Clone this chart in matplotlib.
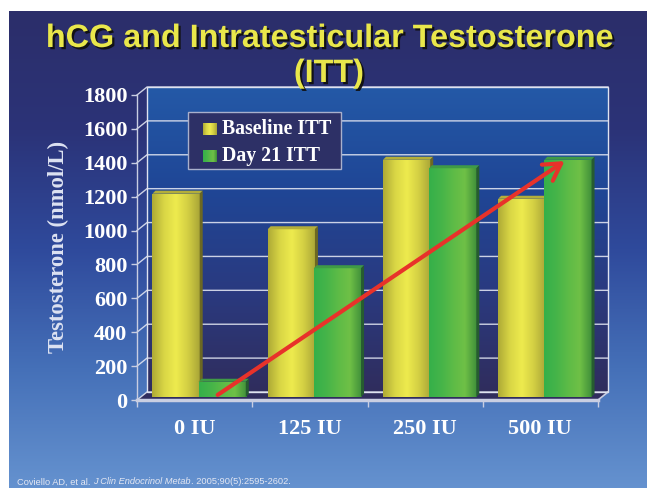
import matplotlib.pyplot as plt
import matplotlib.patheffects as pe
from matplotlib.patches import Rectangle, Polygon
from matplotlib.colors import LinearSegmentedColormap
import numpy as np

W, H = 647, 488

# data
categories = ['0 IU', '125 IU', '250 IU', '500 IU']
baseline_itt = [1200, 990, 1400, 1170]
day21_itt = [90, 760, 1350, 1400]
series_names = ['Baseline ITT', 'Day 21 ITT']
y_ticks = list(range(0, 1801, 200))
trend_start = (0.2, 30)
trend_end = (3.21, 1410)

title_1 = 'hCG and Intratesticular Testosterone'
title_2 = '(ITT)'
y_label = 'Testosterone (nmol/L)'

colors = {
    'title': '#e9e74b',
    'line': '#c9cee2',
    'grid': '#dfe3f0',
    'floor': '#302d5d',
    'legend_bg': '#2d3066',
    'arrow': '#e8322a',
    'ylabel': '#dde2f2',
}
bg_cmap = LinearSegmentedColormap.from_list(
    'bg', ['#2c2e6a', '#2b3378', '#2f4a9c', '#4570b8', '#6592cf'])
wall_cmap = LinearSegmentedColormap.from_list(
    'wall', ['#2459a7', '#1f4696', '#2a3a80', '#302d5d'])
yellow_cmap = LinearSegmentedColormap.from_list(
    'yel', ['#aeaa36', '#d9d645', '#eeeb4e', '#d3cf43', '#a9a537'])
green_cmap = LinearSegmentedColormap.from_list(
    'grn', ['#35b04a', '#45b449', '#5dbb47', '#6fc046', '#3f8f3a'])
bar_cmaps = [yellow_cmap, green_cmap]
top_colors = ['#b3ae3a', '#3f9a46']
side_colors = ['#6c6822', '#265c30']

serif = 'Liberation Serif'
sans = 'Liberation Sans'

fig = plt.figure(figsize=(W / 100, H / 100), dpi=100, facecolor='white')


def px_axes(x0, y0, x1, y1):
    # image pixel box (y down) -> figure axes
    return fig.add_axes([x0 / W, 1 - y1 / H, (x1 - x0) / W, (y1 - y0) / H])


# slide background
bg = px_axes(9, 11, W, H)
bg.axis('off')
bg.imshow(np.linspace(0, 1, 256)[:, None], cmap=bg_cmap, aspect='auto',
          extent=[0, 1, 0, 1])
bg.set_xlim(0, 1)
bg.set_ylim(0, 1)

# front plane of the 3D chart
ax = px_axes(137, 95, 598, 400)
ax.patch.set_visible(False)
xmin, xmax, ymin, ymax = -0.5, 3.5, 0, 1800
ux = 461 / (xmax - xmin)     # pixels per category
uy = 305 / (ymax - ymin)     # pixels per nmol/L

# depth offsets (pixels -> data units)
ox, oy = 10 / ux, 8 / uy          # back wall
bx, by = 4.5 / ux, 3 / uy         # bar front face
tx, ty = 3 / ux, 3 / uy           # bar depth

# back wall
wall = ax.imshow(np.linspace(0, 1, 256)[:, None], cmap=wall_cmap, aspect='auto',
                 extent=[xmin + ox, xmax + ox, ymin + oy, ymax + oy], zorder=0.5)
wall.set_clip_on(False)
ax.add_patch(Rectangle((xmin + ox, ymin + oy), xmax - xmin, ymax - ymin,
                       fc='none', ec=colors['grid'], lw=1, zorder=1, clip_on=False))

# floor
ax.add_patch(Polygon([(xmin, 0), (xmax, 0), (xmax + ox, oy), (xmin + ox, oy)],
                     closed=True, fc=colors['floor'], ec='none', zorder=0.8,
                     clip_on=False))
ax.plot([xmax, xmax + ox], [0, oy], color=colors['line'], lw=1.2, zorder=1,
        clip_on=False)

# gridlines on back wall + left side wall
for v in y_ticks:
    ax.plot([xmin, xmin + ox, xmax + ox], [v, v + oy, v + oy],
            color=colors['grid'], lw=1, alpha=0.9, zorder=1, clip_on=False)

# bars
x = np.arange(len(categories))
width = 0.41
shifts = [-0.2, 0.2]
zo = 3
for i in range(len(categories)):
    for s, values in enumerate([baseline_itt, day21_itt]):
        bar = ax.bar(x[i] + shifts[s] + bx, values[i], width, bottom=by,
                     color='none', zorder=zo)[0]
        x0, y0 = bar.get_x(), bar.get_y()
        x1, y1 = x0 + bar.get_width(), y0 + bar.get_height()
        img = ax.imshow(np.linspace(0, 1, 128)[None, :], cmap=bar_cmaps[s],
                        aspect='auto', extent=[x0, x1, y0, y1], zorder=zo)
        img.set_clip_path(bar)
        ax.add_patch(Polygon([(x0, y1), (x1, y1), (x1 + tx, y1 + ty), (x0 + tx, y1 + ty)],
                             closed=True, fc=top_colors[s], ec='none', zorder=zo,
                             clip_on=False))
        ax.add_patch(Polygon([(x1, y0), (x1, y1), (x1 + tx, y1 + ty), (x1 + tx, y0 + ty)],
                             closed=True, fc=side_colors[s], ec='none', zorder=zo,
                             clip_on=False))
        zo += 0.1

# trend arrow
ax.annotate('', xy=trend_end, xytext=trend_start, annotation_clip=False,
            arrowprops=dict(arrowstyle='->, head_length=0.6, head_width=0.35',
                            color=colors['arrow'], lw=3, shrinkA=0, shrinkB=0,
                            mutation_scale=20),
            zorder=10)

ax.set_xlim(xmin, xmax)
ax.set_ylim(ymin, ymax)

# axes styling
for side in ['top', 'right']:
    ax.spines[side].set_visible(False)
ax.spines['left'].set_color(colors['line'])
ax.spines['left'].set_linewidth(1)
ax.spines['bottom'].set_color(colors['line'])
ax.spines['bottom'].set_linewidth(2.5)
ax.spines['bottom'].set_zorder(9)

ax.set_yticks(y_ticks)
ax.set_yticklabels([str(v) for v in y_ticks])
ax.set_xticks(x)
ax.set_xticklabels(categories)
ax.set_xticks(np.arange(xmin, xmax + 0.01, 1), minor=True)
ax.tick_params(axis='y', colors=colors['line'], labelcolor='white', length=4,
               width=1, pad=3, labelsize=16)
ax.tick_params(axis='x', which='major', length=0, pad=14, labelcolor='white',
               labelsize=16)
ax.tick_params(axis='x', which='minor', length=5, width=1, colors=colors['line'])
for lab in ax.get_yticklabels() + ax.get_xticklabels():
    lab.set_fontfamily(serif)
    lab.set_fontweight('bold')

fig.text(58 / W, 1 - 247 / H, y_label, rotation=90, ha='center', va='center',
         fontsize=16.3, fontfamily=serif, fontweight='bold', color=colors['ylabel'])

# legend
fig.add_artist(Rectangle((188 / W, 1 - 169 / H), (341 - 188) / W, (169 - 112) / H,
                         transform=fig.transFigure, fc=colors['legend_bg'],
                         ec='#a9b0cc', lw=1, zorder=5))
for s, name in enumerate(series_names):
    yc = 129 + s * 27
    sq = px_axes(203, yc - 6.5, 216, yc + 6.5)
    sq.set_zorder(6)
    sq.axis('off')
    sq.imshow(np.linspace(0, 1, 64)[None, :], cmap=bar_cmaps[s], aspect='auto')
    fig.text(222 / W, 1 - yc / H, name, ha='left', va='center', fontsize=14.2,
             fontfamily=serif, fontweight='bold', color='white', zorder=7)

# title
shadow = [pe.withSimplePatchShadow(offset=(1.6, -1.6), shadow_rgbFace='#111111', alpha=0.95)]
fig.text(330 / W, 1 - 47 / H, title_1, ha='center', va='baseline', fontsize=23.3,
         fontfamily=sans, fontweight='bold', color=colors['title'], path_effects=shadow)
fig.text(329 / W, 1 - 82 / H, title_2, ha='center', va='baseline', fontsize=23.3,
         fontfamily=sans, fontweight='bold', color=colors['title'], path_effects=shadow)

# citation
c1 = fig.text(17 / W, 1 - 482 / H, 'Coviello AD, et al. ', ha='left', va='center',
              fontsize=6.7, fontfamily=sans, color='#e3e7f3')
c2 = fig.text(0, 0, 'J Clin Endocrinol Metab', fontsize=6.7, fontfamily=sans,
              style='italic', color='#e3e7f3')
c3 = fig.text(0, 0, '. 2005;90(5):2595-2602.', fontsize=6.7, fontfamily=sans,
              color='#e3e7f3')
r = fig.canvas.get_renderer()
for prev, cur in [(c1, c2), (c2, c3)]:
    bb = prev.get_window_extent(r)
    cur.set_position((bb.x1 / W, bb.y0 / H))
    cur.set_va('bottom')

fig.savefig('out.png', dpi=100, facecolor=fig.get_facecolor())
